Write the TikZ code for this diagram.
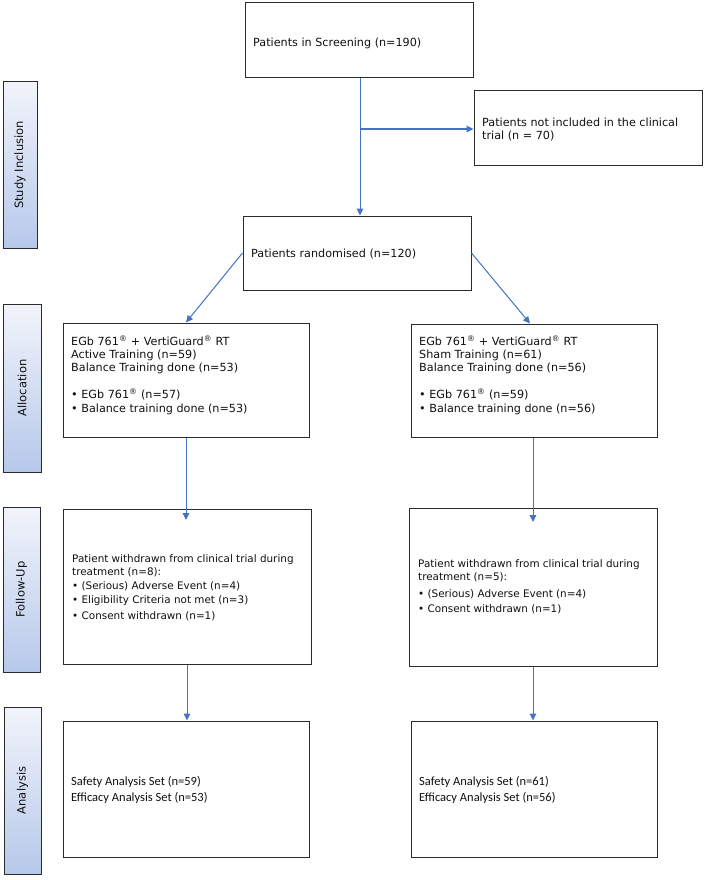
\documentclass[tikz,border=0pt]{standalone}
\usepackage{fontspec}
\setmainfont{DejaVu Sans}
\newfontfamily\calib{Carlito}
\usetikzlibrary{arrows.meta}
\definecolor{arrowblue}{HTML}{4472C4}
\definecolor{boxline}{HTML}{2B2B2B}
\definecolor{bandtop}{HTML}{F2F4FB}
\definecolor{bandbot}{HTML}{B6C8EA}
\definecolor{txtc}{HTML}{111111}
\newcommand{\regm}{\textsuperscript{®}}
\newcommand{\lines}[1]{\begin{tabular}[t]{@{}l@{}}#1\end{tabular}}
\begin{document}
\begin{tikzpicture}[x=1pt,y=-1pt,
  box/.style={draw=boxline, line width=1pt, fill=white, inner sep=0pt},
  band/.style={draw=boxline, line width=1pt, top color=bandtop, bottom color=bandbot, inner sep=0pt},
  bandlabel/.style={rotate=90, inner sep=0pt, text=txtc, font=\fontsize{11.5}{14}\selectfont},
  txt/.style={anchor=base west, inner sep=0pt, text=txtc, font=\fontsize{11.2}{13.4}\selectfont},
  fup/.style={txt, font=\fontsize{10.4}{13.8}\selectfont},
  ana/.style={txt, font=\calib\fontsize{12.5}{16}\selectfont},
  flow/.style={draw=arrowblue, line width=1pt, -{Triangle[length=7pt,width=6.5pt]}},
  ]
\useasboundingbox (0,0) rectangle (708,880);
\fill[white] (0,0) rectangle (708,880);

% side bands
\node[band, minimum width=34pt, minimum height=166pt] (bIncl) at (20,165) {};
\node[band, minimum width=38pt, minimum height=168pt] (bAlloc) at (22,388) {};
\node[band, minimum width=37pt, minimum height=165pt] (bFollow) at (21.5,589.5) {};
\node[band, minimum width=37pt, minimum height=167pt] (bAnal) at (22.5,790.5) {};
\node[bandlabel] (lIncl) at (bIncl.center) {Study Inclusion};
\node[bandlabel] (lAlloc) at (bAlloc.center) {Allocation};
\node[bandlabel] (lFollow) at (bFollow.center) {Follow-Up};
\node[bandlabel] (lAnal) at (bAnal.center) {Analysis};

% boxes
\node[box, minimum width=228pt, minimum height=75pt] (screen) at (359,40.5) {};
\node[box, minimum width=228pt, minimum height=74pt] (notinc) at (588,128) {};
\node[box, minimum width=228pt, minimum height=74pt] (rand) at (357,253) {};
\node[box, minimum width=246pt, minimum height=114pt] (allocL) at (186,380) {};
\node[box, minimum width=246pt, minimum height=113pt] (allocR) at (534,380.5) {};
\node[box, minimum width=248pt, minimum height=155pt] (followL) at (187,586.5) {};
\node[box, minimum width=248pt, minimum height=158pt] (followR) at (533,587) {};
\node[box, minimum width=246pt, minimum height=136pt] (anaL) at (186,789) {};
\node[box, minimum width=246pt, minimum height=136pt] (anaR) at (534,789) {};

% texts
\node[txt] (tScreen) at (253,47) {Patients in Screening (n=190)};
\node[txt] (tNotinc) at (482,126) {\lines{Patients not included in the clinical\\trial (n = 70)}};
\node[txt] (tRand) at (251,257) {Patients randomised (n=120)};
\node[txt] (tAllocL) at (71,345) {\lines{EGb 761\regm{} + VertiGuard\regm{} RT\\Active Training (n=59)\\Balance Training done (n=53)\\ \\• EGb 761\regm{} (n=57)\\• Balance training done (n=53)}};
\node[txt] (tAllocR) at (419,345) {\lines{EGb 761\regm{} + VertiGuard\regm{} RT\\Sham Training (n=61)\\Balance Training done (n=56)\\ \\• EGb 761\regm{} (n=59)\\• Balance training done (n=56)}};
\node[fup] (tFollowL) at (72,562) {\lines{Patient withdrawn from clinical trial during\\treatment (n=8):\\• (Serious) Adverse Event (n=4)\\• Eligibility Criteria not met (n=3)\\[2pt]• Consent withdrawn (n=1)}};
\node[fup] (tFollowR) at (418,567) {\lines{Patient withdrawn from clinical trial during\\treatment (n=5):\\[2.5pt]• (Serious) Adverse Event (n=4)\\[2pt]• Consent withdrawn (n=1)}};
\node[ana] (tAnaL) at (71,785) {\lines{Safety Analysis Set (n=59)\\Efficacy Analysis Set (n=53)}};
\node[ana] (tAnaR) at (419,785) {\lines{Safety Analysis Set (n=61)\\Efficacy Analysis Set (n=56)}};

% connectors
\coordinate (br) at (360,129);
\coordinate (fLin) at (186,520);
\coordinate (fRin) at (533,522);
\draw[flow] (screen.south -| br) -- (br |- rand.north);
\draw[flow] (br) -- (notinc.west |- br);
\draw[flow] (rand.west) -- (allocL.north);
\draw[flow] (rand.east) -- ([xshift=-4pt]allocR.north);
\draw[flow] (allocL.south) -- (allocL.south |- fLin);
\draw[flow] (allocR.south -| fRin) -- (fRin);
\draw[flow] (followL.south) -- (followL.south |- anaL.north);
\draw[flow] (followR.south) -- (followR.south |- anaR.north);
\end{tikzpicture}
\end{document}
